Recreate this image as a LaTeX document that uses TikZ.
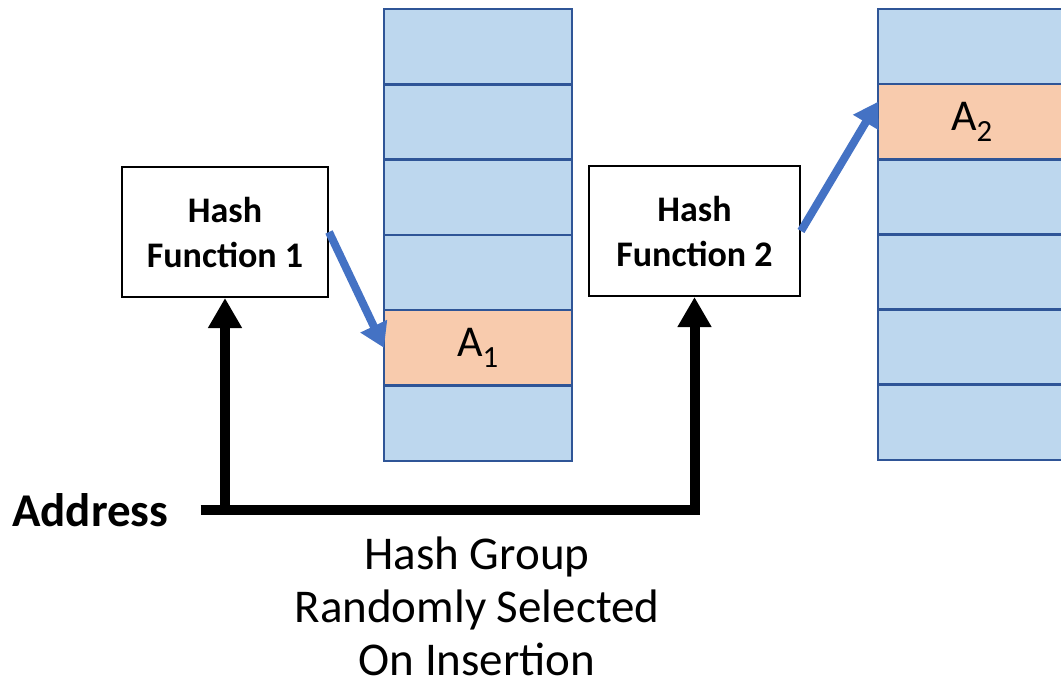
\documentclass[tikz,border=0pt]{standalone}
\usepackage{fontspec}
\setmainfont{Carlito}
\usetikzlibrary{arrows.meta,positioning,calc}
\definecolor{cellblue}{HTML}{BDD7EE}
\definecolor{cellorange}{HTML}{F8CBAD}
\definecolor{celledge}{HTML}{2F5597}
\definecolor{ptrblue}{HTML}{4472C4}

\begin{document}
\begin{tikzpicture}[x=1pt, y=-1pt,
		cell/.style={draw=celledge, line width=2.5pt, fill=cellblue, minimum width=188pt, minimum height=75.3pt, inner sep=0pt, outer sep=0pt, anchor=north west, font=\fontsize{44}{50}\selectfont},
		hit/.style={cell, fill=cellorange},
		hashbox/.style={draw, line width=2pt, minimum width=206pt, minimum height=130pt, align=center, font=\bfseries\fontsize{36}{45}\selectfont},
		addrline/.style={line width=10pt, line join=miter, -{Triangle[width=32pt,length=30pt]}},
		ptr/.style={ptrblue, line width=8pt, -{Triangle[width=28pt,length=24pt]}}]
		\useasboundingbox (0,0) rectangle (1061,689);
		\clip (0,0) rectangle (1061,689);
		% the two hash tables
		\foreach \i in {1,...,6} {
				\node[cell] (t1-\i) at (384, {9+(\i-1)*75.3}) {};
				\node[cell] (t2-\i) at (878, {9+(\i-1)*75.1}) {};
			}
		\node[hit] (a1) at (t1-5.north west) {A\textsubscript{1}};
		\node[hit] (a2) at (t2-2.north west) {A\textsubscript{2}};
		% hash functions
		\node[hashbox] (hf1) at (225,232) {Hash\\Function 1};
		\node[hashbox, minimum width=211pt] (hf2) at (694.5,231) {Hash\\Function 2};
		\node[anchor=west, inner sep=0pt, font=\bfseries\fontsize{47}{56}\selectfont] (addr) at (12,510) {Address};
		\coordinate[right=32pt of addr.east] (start);
		\draw[addrline] (start) -| (hf2.south);
		\draw[addrline] (start -| hf1.south) -- (hf1.south);
		\draw[ptr] (hf1.east) -- (a1.west);
		\draw[ptr] (hf2.east) -- (a2.168);
		\node[align=center, inner sep=0pt, font=\fontsize{47}{53}\selectfont] (note) at (477,606) {Hash Group\\Randomly Selected\\On Insertion};
	\end{tikzpicture}
\end{document}
